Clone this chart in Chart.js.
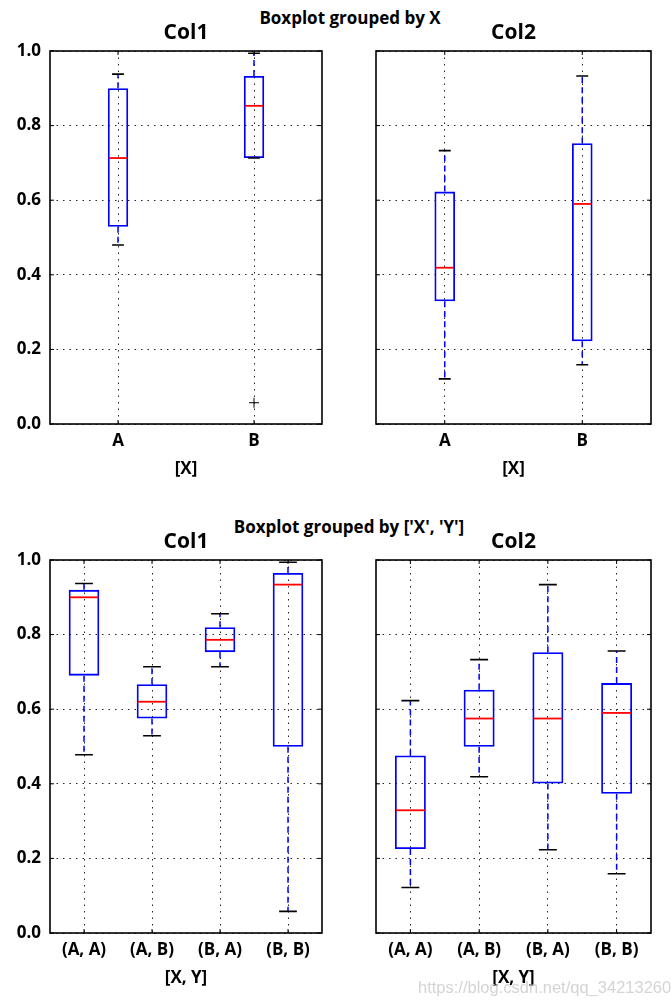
<!DOCTYPE html>
<html>
<head>
<meta charset="utf-8">
<script src="https://cdn.jsdelivr.net/npm/chart.js@4/dist/chart.umd.min.js"></script>
<style>
  html, body { margin: 0; padding: 0; background: #fff; }
  #wrap { position: relative; width: 671px; height: 1006px; background: #fff; overflow: hidden; }
  canvas { position: absolute; }
  .sup { position: absolute; transform: translateX(-50%); font-family: 'Open Sans', sans-serif; font-weight: bold; font-size: 17px; line-height: 20px; white-space: nowrap; color: #000; }
  #wm { position: absolute; left: 418px; top: 978px; font-family: 'Liberation Sans', Arial, sans-serif; font-size: 16.5px; color: rgba(205,205,205,0.85); white-space: nowrap; z-index: 5; }
</style>
</head>
<body>
<div id="wrap">
  <div class="sup" style="left:350px; top:8px;">Boxplot grouped by X</div>
  <div class="sup" style="left:349px; top:517px;">Boxplot grouped by ['X', 'Y']</div>
  <canvas id="c1" width="335" height="490" style="left:0px; top:0px;"></canvas>
  <canvas id="c2" width="336" height="490" style="left:335px; top:0px;"></canvas>
  <canvas id="c3" width="335" height="490" style="left:0px; top:509px;"></canvas>
  <canvas id="c4" width="336" height="490" style="left:335px; top:509px;"></canvas>
  <div id="wm">https://blog.csdn.net/qq_34213260</div>
</div>
<script>
// ---------- data ----------
const groupsX  = ['A', 'B'];
const groupsXY = ['(A, A)', '(A, B)', '(B, A)', '(B, B)'];
const yTickLabels = ['0.0', '0.2', '0.4', '0.6', '0.8', '1.0'];

// Col1 grouped by X
const col1X_low  = [0.480, 0.713];
const col1X_q1   = [0.529, 0.713];
const col1X_med  = [0.713, 0.853];
const col1X_q3   = [0.900, 0.933];
const col1X_high = [0.938, 0.994];
const col1X_fliers = [[], [0.057]];

// Col2 grouped by X
const col2X_low  = [0.121, 0.159];
const col2X_q1   = [0.329, 0.222];
const col2X_med  = [0.419, 0.590];
const col2X_q3   = [0.623, 0.753];
const col2X_high = [0.733, 0.933];
const col2X_fliers = [[], []];

// Col1 grouped by X, Y
const col1XY_low  = [0.478, 0.529, 0.714, 0.058];
const col1XY_q1   = [0.690, 0.575, 0.753, 0.499];
const col1XY_med  = [0.900, 0.620, 0.786, 0.934];
const col1XY_q3   = [0.920, 0.667, 0.820, 0.965];
const col1XY_high = [0.937, 0.714, 0.856, 0.994];
const col1XY_fliers = [[], [], [], []];

// Col2 grouped by X, Y
const col2XY_low  = [0.122, 0.419, 0.223, 0.159];
const col2XY_q1   = [0.225, 0.499, 0.401, 0.373];
const col2XY_med  = [0.329, 0.575, 0.575, 0.590];
const col2XY_q3   = [0.476, 0.652, 0.753, 0.670];
const col2XY_high = [0.623, 0.733, 0.934, 0.756];
const col2XY_fliers = [[], [], [], []];

// ---------- drawing ----------
const FONT = "'Open Sans', sans-serif";

function makePanel(id, cfg) {
  const { labels, low, q1, med, q3, high, fliers, title, xTitle, showY, barPct, yWidth, padRight } = cfg;

  const flierPts = [];
  fliers.forEach((arr, i) => arr.forEach(v => flierPts.push({ x: labels[i], y: v })));

  const boxPlugin = {
    id: 'boxParts_' + id,
    afterDatasetsDraw(chart) {
      const ctx = chart.ctx;
      const ys = chart.scales.y;
      const meta = chart.getDatasetMeta(0);
      ctx.save();
      meta.data.forEach((bar, i) => {
        const x = bar.x, w = bar.width;
        const pLow = ys.getPixelForValue(low[i]);
        const pQ1 = ys.getPixelForValue(q1[i]);
        const pMed = ys.getPixelForValue(med[i]);
        const pQ3 = ys.getPixelForValue(q3[i]);
        const pHigh = ys.getPixelForValue(high[i]);
        // whiskers
        ctx.strokeStyle = '#0000ff';
        ctx.lineWidth = 1.5;
        ctx.setLineDash([6, 4]);
        ctx.beginPath();
        ctx.moveTo(x, pQ1); ctx.lineTo(x, pLow);
        ctx.moveTo(x, pQ3); ctx.lineTo(x, pHigh);
        ctx.stroke();
        ctx.setLineDash([]);
        // caps
        ctx.strokeStyle = '#000';
        ctx.lineWidth = 1.6;
        const cw = w * 0.29;
        ctx.beginPath();
        ctx.moveTo(x - cw, pLow); ctx.lineTo(x + cw, pLow);
        ctx.moveTo(x - cw, pHigh); ctx.lineTo(x + cw, pHigh);
        ctx.stroke();
        // median
        ctx.strokeStyle = '#ff0000';
        ctx.lineWidth = 1.8;
        ctx.beginPath();
        ctx.moveTo(x - w / 2 + 1, pMed); ctx.lineTo(x + w / 2 - 1, pMed);
        ctx.stroke();
      });
      ctx.restore();
    },
    afterDraw(chart) {
      const ctx = chart.ctx;
      const a = chart.chartArea;
      ctx.save();
      ctx.strokeStyle = '#000';
      ctx.lineWidth = 1;
      const tl = 4;
      ctx.beginPath();
      chart.scales.y.ticks.forEach(t => {
        const py = chart.scales.y.getPixelForValue(t.value);
        ctx.moveTo(a.left, py); ctx.lineTo(a.left + tl, py);
        ctx.moveTo(a.right, py); ctx.lineTo(a.right - tl, py);
      });
      labels.forEach((l, i) => {
        const px = chart.scales.x.getPixelForValue(i);
        ctx.moveTo(px, a.top); ctx.lineTo(px, a.top + tl);
        ctx.moveTo(px, a.bottom); ctx.lineTo(px, a.bottom - tl);
      });
      ctx.stroke();
      ctx.lineWidth = 1.6;
      ctx.strokeRect(a.left, a.top, a.right - a.left, a.bottom - a.top);
      ctx.restore();
    }
  };

  return new Chart(document.getElementById(id), {
    type: 'bar',
    data: {
      labels: labels,
      datasets: [
        {
          type: 'bar',
          data: labels.map((l, i) => [q1[i], q3[i]]),
          backgroundColor: 'rgba(0,0,0,0)',
          borderColor: '#0000ff',
          borderWidth: 1.8,
          borderSkipped: false,
          barPercentage: barPct,
          categoryPercentage: 1.0,
          order: 2
        },
        {
          type: 'line',
          data: flierPts,
          showLine: false,
          pointStyle: 'cross',
          pointRadius: 5,
          pointBorderColor: '#000',
          pointBorderWidth: 1,
          borderColor: '#000',
          order: 1
        }
      ]
    },
    options: {
      responsive: false,
      animation: false,
      events: [],
      layout: { padding: { left: 0, right: padRight, top: 0, bottom: 0 } },
      plugins: {
        legend: { display: false },
        tooltip: { enabled: false },
        title: {
          display: true,
          text: title,
          fullSize: false,
          color: '#000',
          font: { family: FONT, size: 21, weight: 'bold', lineHeight: 1 },
          padding: { top: 23, bottom: 7 }
        }
      },
      scales: {
        x: {
          type: 'category',
          offset: true,
          afterFit(s) { s.height = 66; },
          grid: { display: true, offset: false, drawTicks: false, color: 'rgba(0,0,0,0.85)', lineWidth: 1 },
          border: { display: false, dash: [1.5, 5] },
          ticks: { color: '#000', padding: 7, font: { family: FONT, size: 17, weight: 'bold' } },
          title: {
            display: true, text: xTitle, color: '#000',
            font: { family: FONT, size: 17, weight: 'bold', lineHeight: 1 },
            padding: { top: 0, bottom: 12 }
          }
        },
        y: {
          type: 'linear',
          min: 0, max: 1,
          afterFit(s) { s.width = yWidth; },
          grid: { display: true, drawTicks: false, color: 'rgba(0,0,0,0.85)', lineWidth: 1 },
          border: { display: false, dash: [1.5, 5] },
          ticks: {
            display: showY,
            stepSize: 0.2,
            color: '#000',
            padding: 9,
            font: { family: FONT, size: 17, weight: 'bold' },
            callback: (v, i) => yTickLabels[i]
          }
        }
      }
    },
    plugins: [boxPlugin]
  });
}

makePanel('c1', { labels: groupsX, low: col1X_low, q1: col1X_q1, med: col1X_med, q3: col1X_q3, high: col1X_high, fliers: col1X_fliers,
  title: 'Col1', xTitle: '[X]', showY: true, barPct: 0.15, yWidth: 50, padRight: 13 });
makePanel('c2', { labels: groupsX, low: col2X_low, q1: col2X_q1, med: col2X_med, q3: col2X_q3, high: col2X_high, fliers: col2X_fliers,
  title: 'Col2', xTitle: '[X]', showY: false, barPct: 0.15, yWidth: 41, padRight: 20 });
makePanel('c3', { labels: groupsXY, low: col1XY_low, q1: col1XY_q1, med: col1XY_med, q3: col1XY_q3, high: col1XY_high, fliers: col1XY_fliers,
  title: 'Col1', xTitle: '[X, Y]', showY: true, barPct: 0.45, yWidth: 50, padRight: 13 });
makePanel('c4', { labels: groupsXY, low: col2XY_low, q1: col2XY_q1, med: col2XY_med, q3: col2XY_q3, high: col2XY_high, fliers: col2XY_fliers,
  title: 'Col2', xTitle: '[X, Y]', showY: false, barPct: 0.45, yWidth: 41, padRight: 20 });
</script>
</body>
</html>
